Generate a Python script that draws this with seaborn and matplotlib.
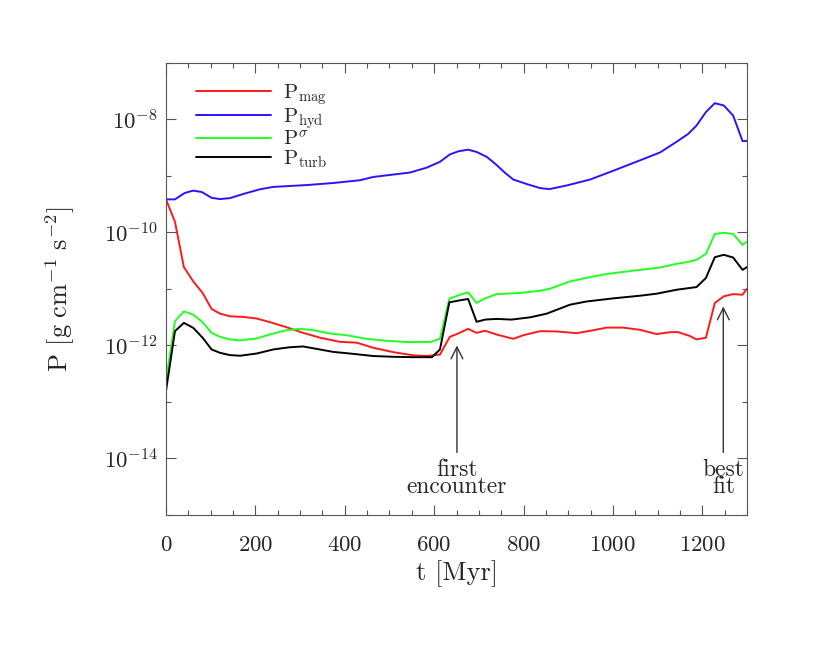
import numpy as np
import pandas as pd
import matplotlib
matplotlib.use("Agg")
import matplotlib.pyplot as plt
import seaborn as sns
from matplotlib.ticker import FixedLocator, MultipleLocator, FuncFormatter, NullFormatter

# time [Myr] and pressure [g cm^-1 s^-2] for each component
t_mag = [0, 20, 40, 61, 82, 102, 121, 143, 173, 203, 233, 270, 307, 345, 389, 427,
         464, 509, 553, 583, 613, 635, 654, 676, 695, 714, 740, 777, 800, 837, 874,
         919, 956, 986, 1023, 1061, 1098, 1128, 1146, 1172, 1187, 1208, 1228, 1248,
         1269, 1290, 1300]
P_mag = [3.85e-10, 1.55e-10, 2.44e-11, 1.36e-11, 8.5e-12, 4.43e-12, 3.66e-12, 3.28e-12,
         3.2e-12, 3.0e-12, 2.58e-12, 2.1e-12, 1.67e-12, 1.37e-12, 1.16e-12, 1.12e-12,
         9.1e-13, 7.6e-13, 6.7e-13, 6.5e-13, 6.9e-13, 1.42e-12, 1.63e-12, 1.97e-12,
         1.67e-12, 1.82e-12, 1.56e-12, 1.31e-12, 1.52e-12, 1.79e-12, 1.77e-12, 1.65e-12,
         1.86e-12, 2.07e-12, 2.07e-12, 1.89e-12, 1.59e-12, 1.72e-12, 1.72e-12, 1.47e-12,
         1.28e-12, 1.37e-12, 5.65e-12, 7.4e-12, 8.1e-12, 7.9e-12, 1.01e-11]

t_hyd = [0, 20, 42, 61, 80, 102, 121, 143, 173, 210, 240, 315, 374, 434, 464, 546, 583,
         613, 635, 654, 676, 695, 718, 736, 759, 777, 807, 837, 858, 897, 949, 1000,
         1038, 1076, 1106, 1143, 1169, 1187, 1208, 1228, 1248, 1269, 1290, 1300]
P_hyd = [3.85e-10, 3.85e-10, 5.0e-10, 5.5e-10, 5.2e-10, 4.1e-10, 3.9e-10, 4.05e-10,
         4.8e-10, 5.8e-10, 6.4e-10, 6.9e-10, 7.5e-10, 8.4e-10, 9.6e-10, 1.15e-9, 1.4e-9,
         1.78e-9, 2.4e-9, 2.73e-9, 2.92e-9, 2.66e-9, 2.17e-9, 1.66e-9, 1.13e-9, 8.65e-10,
         7.2e-10, 6.1e-10, 5.85e-10, 6.8e-10, 8.65e-10, 1.23e-9, 1.61e-9, 2.11e-9,
         2.62e-9, 4.05e-9, 5.6e-9, 7.8e-9, 1.35e-8, 1.94e-8, 1.77e-8, 1.17e-8, 4.15e-9,
         4.15e-9]

t_sig = [0, 20, 40, 61, 82, 102, 121, 143, 166, 203, 240, 270, 300, 330, 367, 404, 449,
         494, 539, 591, 613, 634, 658, 676, 695, 714, 740, 792, 837, 859, 904, 949, 986,
         1038, 1106, 1143, 1165, 1187, 1208, 1228, 1248, 1269, 1290, 1300]
P_sig = [2.35e-13, 2.68e-12, 4.02e-12, 3.51e-12, 2.58e-12, 1.67e-12, 1.42e-12, 1.28e-12,
         1.23e-12, 1.33e-12, 1.63e-12, 1.86e-12, 1.97e-12, 1.86e-12, 1.63e-12, 1.52e-12,
         1.31e-12, 1.21e-12, 1.15e-12, 1.15e-12, 1.31e-12, 6.73e-12, 7.9e-12, 8.7e-12,
         5.65e-12, 6.82e-12, 8.1e-12, 8.5e-12, 9.3e-12, 1.01e-11, 1.36e-11, 1.62e-11,
         1.84e-11, 2.07e-11, 2.4e-11, 2.79e-11, 2.98e-11, 3.28e-11, 4.18e-11, 9.4e-11,
         9.9e-11, 9.4e-11, 6.03e-11, 6.9e-11]

t_turb = [0, 20, 40, 61, 82, 102, 121, 143, 166, 203, 240, 277, 307, 337, 374, 419, 464,
          509, 553, 595, 613, 634, 658, 676, 695, 714, 740, 773, 815, 852, 904, 941,
          1001, 1061, 1098, 1143, 1187, 1208, 1228, 1248, 1269, 1290, 1300]
P_turb = [1.57e-13, 1.79e-12, 2.51e-12, 2.05e-12, 1.37e-12, 8.5e-13, 7.4e-13, 6.75e-13,
          6.58e-13, 7.2e-13, 8.5e-13, 9.3e-13, 9.6e-13, 8.7e-13, 7.7e-13, 7.1e-13, 6.5e-13,
          6.3e-13, 6.2e-13, 6.2e-13, 8.5e-13, 5.8e-12, 6.3e-12, 6.65e-12, 2.62e-12,
          2.87e-12, 2.95e-12, 2.87e-12, 3.15e-12, 3.66e-12, 5.27e-12, 6.0e-12, 6.82e-12,
          7.6e-12, 8.25e-12, 9.7e-12, 1.08e-11, 1.56e-11, 3.65e-11, 4.02e-11, 3.6e-11,
          2.18e-11, 2.44e-11]

labels = [r"$\mathrm{P_{mag}}$", r"$\mathrm{P_{hyd}}$", r"$\mathrm{P}^{\sigma}$",
          r"$\mathrm{P_{turb}}$"]
colors = ["#ff1a1a", "#2a14ff", "#22ff22", "#000000"]

# events marked with arrows: (time, pressure at arrow tip, text)
events_t = [651, 1247]
events_P = [1.0e-12, 4.9e-12]
events_text = ["first\nencounter", "best\nfit"]

df = pd.concat([
    pd.DataFrame({"t": t_mag, "P": P_mag, "series": labels[0]}),
    pd.DataFrame({"t": t_hyd, "P": P_hyd, "series": labels[1]}),
    pd.DataFrame({"t": t_sig, "P": P_sig, "series": labels[2]}),
    pd.DataFrame({"t": t_turb, "P": P_turb, "series": labels[3]}),
])

sns.set_style("ticks")
plt.rcParams["font.family"] = "serif"
plt.rcParams["font.serif"] = ["cmr10", "DejaVu Serif"]
plt.rcParams["mathtext.fontset"] = "cm"
plt.rcParams["axes.formatter.use_mathtext"] = True
plt.rcParams["axes.unicode_minus"] = False

fig = plt.figure(figsize=(8.3, 6.45), dpi=100)
ax = fig.add_axes([0.2, 0.2016, 0.7, 0.7008])

sns.lineplot(data=df, x="t", y="P", hue="series", hue_order=labels, palette=colors,
             estimator=None, sort=False, lw=1.4, ax=ax)
ax.set_yscale("log")
ax.set_xlim(0, 1300)
ax.set_ylim(1e-15, 1e-7)

# ticks: labelled even decades, short ticks on odd decades
ax.yaxis.set_major_locator(FixedLocator([1e-14, 1e-12, 1e-10, 1e-8]))
ax.yaxis.set_minor_locator(FixedLocator([1e-15, 1e-13, 1e-11, 1e-9, 1e-7]))
ax.yaxis.set_major_formatter(FuncFormatter(lambda v, p: r"$10^{%d}$" % round(np.log10(v))))
ax.yaxis.set_minor_formatter(NullFormatter())
ax.xaxis.set_major_locator(MultipleLocator(200))
ax.xaxis.set_minor_locator(MultipleLocator(50))

ax.tick_params(which="both", direction="in", top=True, right=True, width=0.8,
               color="#555555", labelsize=16.5)
ax.tick_params(which="major", length=7)
ax.tick_params(which="minor", length=3.5)
ax.tick_params(axis="x", pad=15)
ax.tick_params(axis="y", pad=6)
for s in ax.spines.values():
    s.set_color("#555555")
    s.set_linewidth(0.8)

ax.set_xlabel("t [Myr]", fontsize=19)
ax.set_ylabel(r"P $[\mathrm{g\ cm^{-1}\ s^{-2}}]$", fontsize=19)
ax.xaxis.set_label_coords(0.5, -0.10)
ax.yaxis.set_label_coords(-0.153, 0.5)

for tx, py, txt in zip(events_t, events_P, events_text):
    ax.annotate(txt, xy=(tx, py), xytext=(tx, 1.0e-14), ha="center", va="top",
                fontsize=17, linespacing=0.75,
                arrowprops=dict(arrowstyle="->,head_length=0.5,head_width=0.25",
                                color="#333333", lw=1, shrinkA=2, shrinkB=0))

ax.legend(loc="upper left", bbox_to_anchor=(0.038, 0.975), frameon=False, fontsize=15,
          handlelength=3.6, handletextpad=0.55, labelspacing=-0.05, borderaxespad=0)

fig.savefig("out.png", dpi=100)
